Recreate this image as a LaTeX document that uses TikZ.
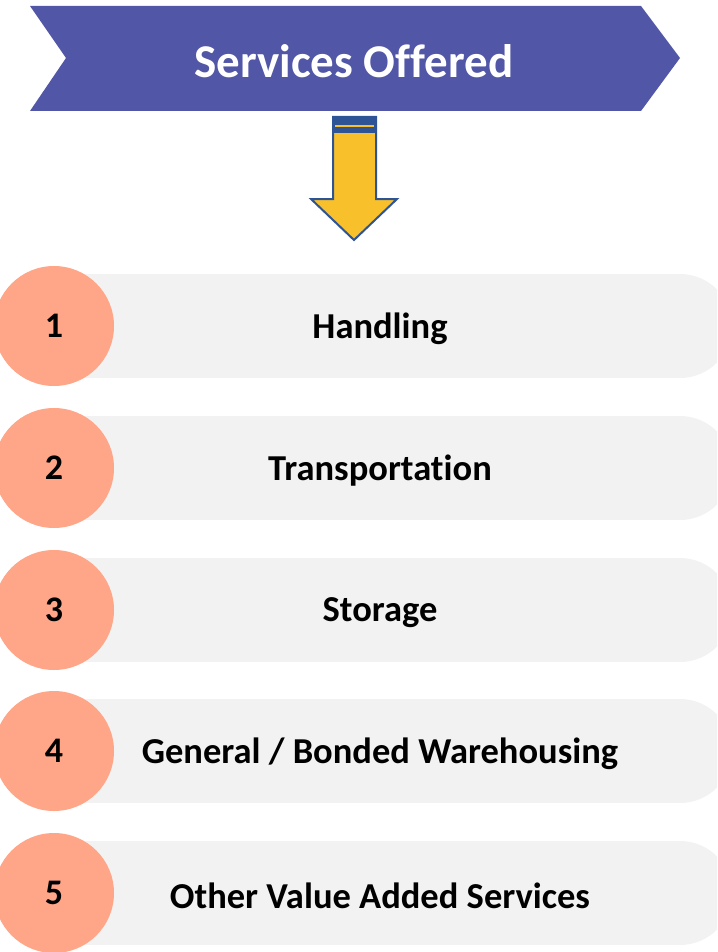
\documentclass[tikz,border=0pt]{standalone}
\usepackage{fontspec}
\setmainfont[Ligatures=NoCommon]{Carlito}
\usepackage{xcolor}
\usepackage{tikz}

\definecolor{bannerblue}{RGB}{81,86,166}
\definecolor{arrowyellow}{RGB}{248,193,43}
\definecolor{arrowblue}{RGB}{47,84,150}
\definecolor{salmon}{RGB}{255,166,137}
\definecolor{bargray}{RGB}{242,242,242}

\begin{document}
\begin{tikzpicture}[x=1pt,y=-1pt,
		title/.style={text=white,font=\bfseries\fontsize{47}{52}\selectfont},
		numdot/.style={circle,fill=salmon,minimum size=120pt,inner sep=0pt,font=\bfseries\fontsize{36}{40}\selectfont},
		item/.style={font=\bfseries\fontsize{36.5}{40}\selectfont}]
		\useasboundingbox (0,0) rectangle (717,952);
		\clip (0,0) rectangle (717,952);

		% Banner
		\fill[bannerblue] (30,6) -- (641,6) -- (680,58) -- (641,111) -- (30,111) -- (66,58) -- cycle;
		\node[title] (title) at (354,61) {Services Offered};

		% Arrow
		\filldraw[fill=arrowyellow,draw=arrowblue,line width=2pt,line join=miter]
			(333,117) -- (376,117) -- (376,199) -- (397,199) -- (354,240) -- (311,199) -- (333,199) -- cycle;
		\fill[arrowblue] (332,116) rectangle (377,133);
		\draw[arrowyellow,line width=1.5pt] (335,126) -- (374,126);

		% Services
		\foreach \i/\y/\t in {1/326/Handling, 2/468/Transportation, 3/610/Storage,
				4/751/{General / Bonded Warehousing}, 5/893/Other Value Added Services}{
			\fill[bargray] (60,\y-52) rectangle (680,\y+52);
			\fill[bargray] (680,\y) circle (52);
			\node[item] (item\i) at (380,\y+3) {\t};
			\node[numdot] (num\i) at (54,\y) {\i};
		}
	\end{tikzpicture}
\end{document}
